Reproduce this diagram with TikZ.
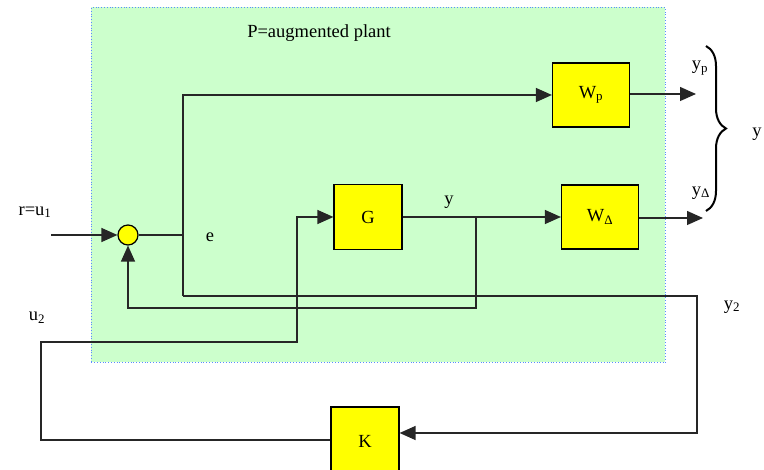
\documentclass[tikz,border=0pt]{standalone}
\usepackage{fontspec}
\setmainfont{Liberation Serif}
\usetikzlibrary{arrows.meta,decorations.pathreplacing}
\definecolor{plantgreen}{HTML}{CCFFCC}
\definecolor{plantblue}{HTML}{5A8CFF}
\definecolor{boxyellow}{HTML}{FFFF00}
\begin{document}
\begin{tikzpicture}[x=1pt,y=-1pt,
  font=\fontsize{18.5}{21}\selectfont,
  blk/.style={draw=black,line width=1.2pt,fill=boxyellow,inner sep=0pt},
  wire/.style={draw=black!85,line width=1.3pt},
  arr/.style={wire,-{Triangle[length=16pt,width=14pt]}},
  lbl/.style={inner sep=0pt}]
\useasboundingbox (0,0) rectangle (764,470);
% augmented plant region
\node[draw=plantblue,dotted,line width=0.8pt,fill=plantgreen,minimum width=574pt,minimum height=355pt,inner sep=0pt,anchor=north west] (plant) at (91,7) {};
\node[lbl] (title) at (319,33) {P=augmented plant};
% blocks
\node[blk,minimum width=77pt,minimum height=64pt] (Wp) at (591,95) {W\textsubscript{p}};
\node[blk,minimum width=68pt,minimum height=65pt] (G) at (368,217) {G};
\node[blk,minimum width=77pt,minimum height=64pt] (WD) at (600,217) {W\textsubscript{Δ}};
\node[blk,minimum width=68pt,minimum height=68pt] (K) at (365,441) {K};
\node[draw=black,line width=1.2pt,fill=boxyellow,circle,minimum size=20pt,inner sep=0pt] (sum) at (128,235) {};
% coordinates
\coordinate (rin) at (51,235);
\coordinate (ej) at (183,235);
\coordinate (etop) at (183,95);
\coordinate (ebot) at (183,296);
\coordinate (y2c) at (697,296);
\coordinate (y2d) at (697,433);
\coordinate (br) at (476,217);
\coordinate (fb1) at (476,308);
\coordinate (fb2) at (128,308);
\coordinate (u2a) at (297,217);
\coordinate (u2b) at (297,342);
\coordinate (u2c) at (41,342);
\coordinate (u2d) at (41,440);
\coordinate (ypend) at (696,94);
\coordinate (ydend) at (703,218);
% connectors
\draw[arr] (rin) -- (sum.west);
\draw[wire] (sum.east) -- (ej);
\draw[arr] (ebot) -- (etop) -- (Wp.west |- etop);
\draw[arr] (ebot) -- (y2c) -- (y2d) -- (K.east |- y2d);
\draw[arr] (G.east) -- (WD.west);
\draw[arr] (br) -- (fb1) -- (fb2) -- (sum.south);
\draw[arr] (K.west |- u2d) -- (u2d) -- (u2c) -- (u2b) -- (u2a) -- (G.west);
\draw[arr] (Wp.east |- ypend) -- (ypend);
\draw[arr] (WD.east |- ydend) -- (ydend);
% brace
\draw[decorate,decoration={brace,amplitude=20pt},line width=2pt] (706,46) -- (706,211);
% labels
\node[lbl] (lr) at (35,212) {r=u\textsubscript{1}};
\node[lbl] (le) at (210,237) {e};
\node[lbl] (ly) at (449,202) {y};
\node[lbl] (lyp) at (700,68) {y\textsubscript{p}};
\node[lbl] (lyd) at (701,193) {y\textsubscript{Δ}};
\node[lbl] (lyall) at (757,134) {y};
\node[lbl] (lu2) at (37,318) {u\textsubscript{2}};
\node[lbl] (ly2) at (732,307) {y\textsubscript{2}};
\end{tikzpicture}
\end{document}
